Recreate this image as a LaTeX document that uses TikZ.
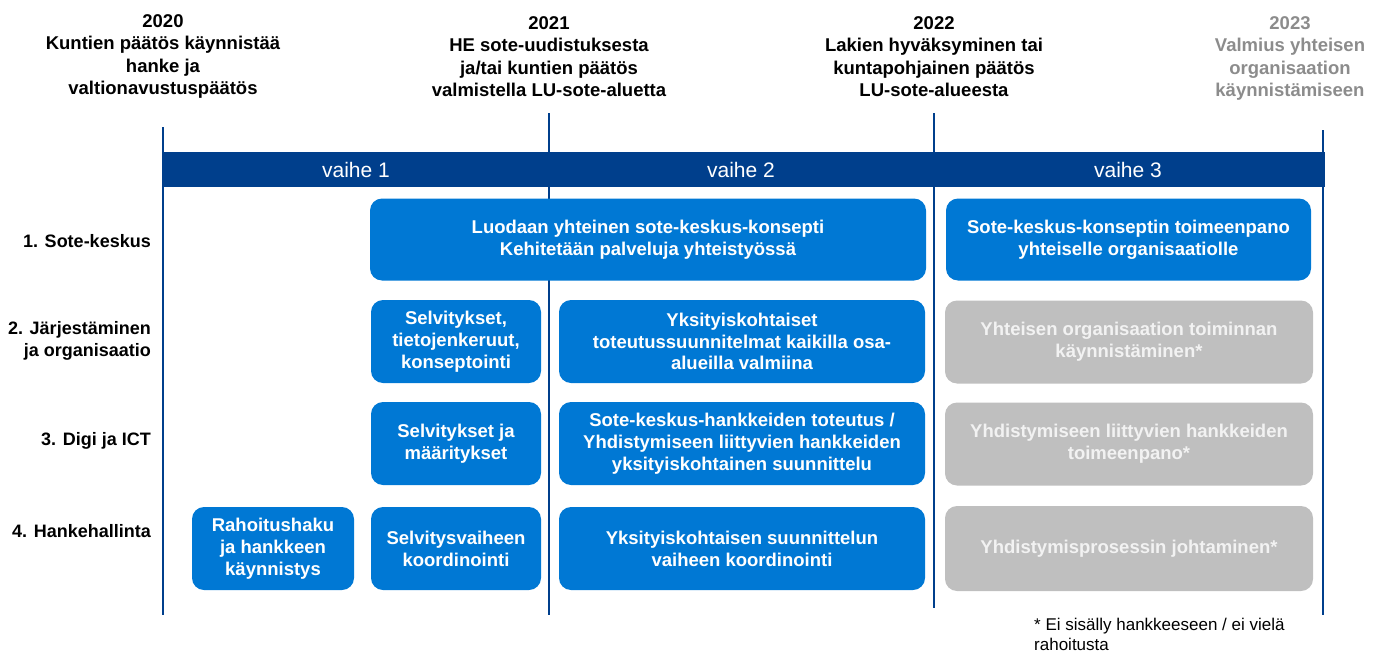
\documentclass[tikz,border=0pt]{standalone}
\usepackage{fontspec}
\setmainfont{Liberation Sans}
\definecolor{bandblue}{HTML}{003F8C}
\definecolor{boxblue}{HTML}{0078D4}
\definecolor{boxgray}{HTML}{BFBFBF}
\definecolor{graytext}{HTML}{F2F2F2}
\definecolor{headgray}{HTML}{8C8C8C}
\begin{document}
\begin{tikzpicture}[x=1pt,y=-1pt,
  bluebox/.style={rounded corners=12pt, fill=boxblue, text=white, font=\bfseries\fontsize{18.5}{21.8}\selectfont, align=center, inner sep=0pt, minimum height=83pt},
  graybox/.style={bluebox, fill=boxgray, text=graytext},
  header/.style={font=\bfseries\fontsize{18.5}{22.5}\selectfont, align=center, inner sep=0pt},
  rowlab/.style={font=\bfseries\fontsize{18}{22}\selectfont, align=right, anchor=east, inner sep=0pt},
  phase/.style={font=\fontsize{21}{24}\selectfont, text=white, inner sep=0pt},
  vline/.style={draw=bandblue, line width=2.5pt}
]
\useasboundingbox (0,0) rectangle (1377,653);

% headers
\node[header] (h2020) at (163,56.5) {2020\\Kuntien päätös käynnistää\\hanke ja\\valtionavustuspäätös};
\node[header] (h2021) at (549,56.5) {2021\\HE sote-uudistuksesta\\ja/tai kuntien päätös\\valmistella LU-sote-aluetta};
\node[header] (h2022) at (934,56.5) {2022\\Lakien hyväksyminen tai\\kuntapohjainen päätös\\LU-sote-alueesta};
\node[header, text=headgray] (h2023) at (1290,58.5) {2023\\Valmius yhteisen\\organisaation\\käynnistämiseen};

% vertical lines
\draw[vline] (163,127) -- (163,615);
\draw[vline] (549,113) -- (549,615);
\draw[vline] (934,113) -- (934,608);
\draw[vline] (1323,130) -- (1323,615);

% band
\fill[bandblue] (163,152) rectangle (1324.5,187);
\node[phase] (p1) at (356,170) {vaihe 1};
\node[phase] (p2) at (741,170) {vaihe 2};
\node[phase] (p3) at (1128,170) {vaihe 3};

% row labels
\node[rowlab] (r1) at (151,241) {1. Sote-keskus};
\node[rowlab] (r2) at (151,341) {2. Järjestäminen\\ja organisaatio};
\node[rowlab] (r3) at (151,441) {3. Digi ja ICT};
\node[rowlab] (r4) at (151,531) {4. Hankehallinta};

% row 1
\node[bluebox, minimum width=556pt, minimum height=82pt] (b11) at (648,239.5) {Luodaan yhteinen sote-keskus-konsepti\\Kehitetään palveluja yhteistyössä};
\node[bluebox, minimum width=365pt, minimum height=82pt] (b13) at (1128.5,239.5) {Sote-keskus-konseptin toimeenpano\\yhteiselle organisaatiolle};

% row 2
\node[bluebox, minimum width=170pt] (b21) at (456,341.5) {Selvitykset,\\tietojenkeruut,\\konseptointi};
\node[bluebox, minimum width=366pt] (b22) at (742,341.5) {Yksityiskohtaiset\\toteutussuunnitelmat kaikilla osa-\\alueilla valmiina};
\node[graybox, minimum width=368pt] (b23) at (1129,342) {Yhteisen organisaation toiminnan\\käynnistäminen*};

% row 3
\node[bluebox, minimum width=170pt] (b31) at (456,443.5) {Selvitykset ja\\määritykset};
\node[bluebox, minimum width=366pt] (b32) at (742,443.5) {Sote-keskus-hankkeiden toteutus /\\Yhdistymiseen liittyvien hankkeiden\\yksityiskohtainen suunnittelu};
\node[graybox, minimum width=368pt] (b33) at (1129,444) {Yhdistymiseen liittyvien hankkeiden\\toimeenpano*};

% row 4
\node[bluebox, minimum width=162pt] (b40) at (273,548.5) {Rahoitushaku\\ja hankkeen\\käynnistys};
\node[bluebox, minimum width=170pt] (b41) at (456,548.5) {Selvitysvaiheen\\koordinointi};
\node[bluebox, minimum width=366pt] (b42) at (742,548.5) {Yksityiskohtaisen suunnittelun\\vaiheen koordinointi};
\node[graybox, minimum width=368pt, minimum height=85pt] (b43) at (1129,548.5) {Yhdistymisprosessin johtaminen*};

% footnote
\node[font=\fontsize{17}{19.5}\selectfont, align=left, anchor=north west, inner sep=0pt] (fn) at (1034,618) {* Ei sisälly hankkeeseen / ei vielä\\rahoitusta};
\end{tikzpicture}
\end{document}
